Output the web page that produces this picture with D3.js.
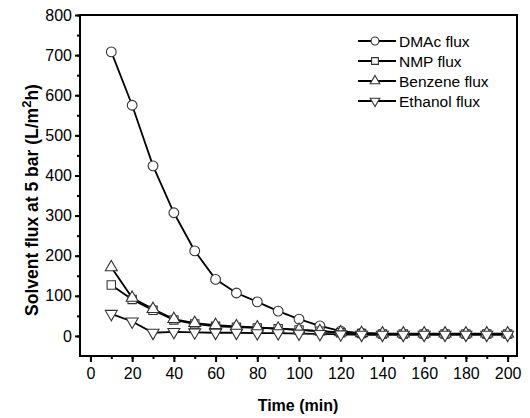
<!DOCTYPE html>
<html><head><meta charset="utf-8">
<script src="https://cdn.jsdelivr.net/npm/d3@7"></script>
<style>body{margin:0;background:#fff}svg{display:block}</style>
</head><body>
<script>
const times = [10,20,30,40,50,60,70,80,90,100,110,120,130,140,150,160,170,180,190,200];
const dmac =    [708,575,424,307,212,141,107,85,62,42,25,12,7,5,5,5,5,5,5,5];
const nmp =     [127,91,64,40,30,24,22,20,18,15,12,8,6,5,5,5,5,5,5,5];
const benzene = [171,95,67,42,32,27,24,21,18,15,12,9,7,6,6,6,6,6,6,6];
const ethanol = [55,36,8,10,9,8,8,7,7,6,5,4,3,3,3,3,3,3,3,3];
const seriesNames = ["DMAc flux","NMP flux","Benzene flux","Ethanol flux"];
const seriesSymbols = ["circle","square","triangle","triangleDown"];
const xTicks = [0,20,40,60,80,100,120,140,160,180,200];
const yTicks = [0,100,200,300,400,500,600,700,800];

const W=530,H=418;
const L=80,R=517,T=15,B=356;
const svg=d3.select("body").append("svg").attr("width",W).attr("height",H);
const x=d3.scaleLinear().domain([-5,204.5]).range([L,R]);
const y=d3.scaleLinear().domain([-50,800]).range([B,T]);
const font="Liberation Sans, Arial, sans-serif";

// frame
svg.append("rect").attr("x",L).attr("y",T).attr("width",R-L).attr("height",B-T)
  .attr("fill","none").attr("stroke","#000").attr("stroke-width",2);

// x axis
const xa=svg.append("g").attr("transform",`translate(0,${B})`);
xa.call(d3.axisBottom(x).tickValues(d3.range(0,201,10)).tickSize(3).tickFormat(""))
  .call(g=>g.select(".domain").remove());
xa.append("g").call(d3.axisBottom(x).tickValues(xTicks).tickSize(6).tickPadding(6).tickFormat(d3.format("d")))
  .call(g=>g.select(".domain").remove());
xa.selectAll("line").attr("stroke","#000").attr("stroke-width",2);
xa.selectAll("text").attr("font-family",font).attr("font-size",16).attr("fill","#000");

// y axis
const ya=svg.append("g").attr("transform",`translate(${L},0)`);
ya.call(d3.axisLeft(y).tickValues(d3.range(0,801,50)).tickSize(3).tickFormat(""))
  .call(g=>g.select(".domain").remove());
ya.append("g").call(d3.axisLeft(y).tickValues(yTicks).tickSize(5).tickPadding(3).tickFormat(d3.format("d")))
  .call(g=>g.select(".domain").remove());
ya.selectAll("line").attr("stroke","#000").attr("stroke-width",2);
ya.selectAll("text").attr("font-family",font).attr("font-size",16).attr("fill","#000");

// titles
svg.append("text").attr("x",298).attr("y",411).attr("text-anchor","middle")
  .attr("font-family",font).attr("font-size",16).attr("font-weight","bold").text("Time (min)");
const yt=svg.append("text").attr("transform",`translate(38,200) rotate(-90)`)
  .attr("text-anchor","middle").attr("font-family",font).attr("font-size",17.5).attr("font-weight","bold");
yt.append("tspan").text("Solvent flux at 5 bar (L/m");
yt.append("tspan").attr("dy",-7).attr("font-size",13).text("2");
yt.append("tspan").attr("dy",7).text("h)");

const symMap={circle:d3.symbolCircle,square:d3.symbolSquare,triangle:d3.symbolTriangle,triangleDown:d3.symbolTriangle};
const symSize={circle:75,square:70,triangle:62,triangleDown:62};
function marker(sel,type,scale){
  sel.append("path").attr("d",d3.symbol().type(symMap[type]).size(symSize[type]*(scale||1))())
    .attr("transform",type==="triangleDown"?"rotate(180)":null)
    .attr("fill","#fff").attr("stroke","#333").attr("stroke-width",1.1);
}

const allSeries=[dmac,nmp,benzene,ethanol];
const line=d3.line().x(d=>x(d[0])).y(d=>y(d[1]));
allSeries.forEach((vals,i)=>{
  const pts=times.map((t,j)=>[t,vals[j]]);
  svg.append("path").datum(pts).attr("d",line).attr("fill","none").attr("stroke","#000").attr("stroke-width",1.8);
});
allSeries.forEach((vals,i)=>{
  const g=svg.append("g");
  times.forEach((t,j)=>{
    const m=g.append("g").attr("transform",`translate(${x(t)},${y(vals[j])})`);
    marker(m,seriesSymbols[i]);
  });
});

// legend
const lg=svg.append("g");
seriesNames.forEach((n,i)=>{
  const yy=41+i*20;
  lg.append("line").attr("x1",358).attr("x2",396).attr("y1",yy).attr("y2",yy).attr("stroke","#000").attr("stroke-width",1.8);
  const m=lg.append("g").attr("transform",`translate(375,${yy})`);
  marker(m,seriesSymbols[i],0.65);
  lg.append("text").attr("x",399).attr("y",yy+5.5).attr("font-family",font).attr("font-size",15.5).text(n);
});
</script>
</body></html>
